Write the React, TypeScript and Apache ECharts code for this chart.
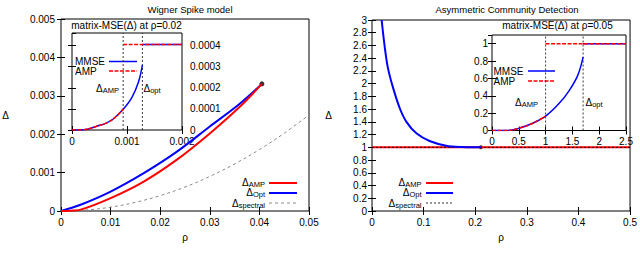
import React, { useEffect, useRef } from 'react';
import * as echarts from 'echarts';

const FONT = 'Liberation Sans';

// ---------- Left panel: Wigner Spike model ----------
const wignerTitle = 'Wigner Spike model';
const wignerXTicks = [0, 0.01, 0.02, 0.03, 0.04, 0.05];
const wignerYTicks = [0, 0.001, 0.002, 0.003, 0.004, 0.005];
const wignerOpt = [[0, 0], [0.0038, 0.000156], [0.0099, 0.0005], [0.0166, 0.00098], [0.0233, 0.00154], [0.03, 0.0022], [0.0361, 0.0028], [0.0405, 0.00331]];
const wignerAmp = [[0, 0], [0.002, 0.000008], [0.0038, 0.00003], [0.0099, 0.00033], [0.0166, 0.00076], [0.0233, 0.00133], [0.03, 0.00202], [0.0361, 0.00272], [0.0405, 0.00331]];
const wignerSpectral = [[0, 0], [0.005, 0.000025], [0.01, 0.0001], [0.015, 0.000225], [0.02, 0.0004], [0.025, 0.000625], [0.03, 0.0009], [0.035, 0.001225], [0.04, 0.0016], [0.045, 0.002025], [0.05, 0.0025]];
const wignerTricritical = [[0.0405, 0.00331]];

// Left inset: matrix-MSE at rho = 0.02
const wignerInsetTitle = 'matrix-MSE(Δ) at ρ=0.02';
const wignerInsetX = [0, 0.001, 0.002];
const wignerInsetY = [0, 0.0001, 0.0002, 0.0003, 0.0004];
const wignerInsetYMax = 0.00046;
const wignerMmse = [[0, 0], [0.00015, 0], [0.0003, 0.000005], [0.00045, 0.000018], [0.0006, 0.00003], [0.00075, 0.000052], [0.00093, 0.000098], [0.00109, 0.000155], [0.00121, 0.000229], [0.00128, 0.000308]];
const wignerMmseTop = [[0.00128, 0.000405], [0.002, 0.000405]];
const wignerAmpInset = [[0, 0], [0.00015, 0], [0.0003, 0.000005], [0.00045, 0.000018], [0.0006, 0.00003], [0.00075, 0.000052], [0.00093, 0.000098]];
const wignerAmpInsetTop = [[0.00093, 0.000405], [0.002, 0.000405]];
const wignerThresholds = [0.00093, 0.00128];

// ---------- Right panel: Asymmetric Community Detection ----------
const acdTitle = 'Asymmetric Community Detection';
const acdXTicks = [0, 0.1, 0.2, 0.3, 0.4, 0.5];
const acdYTicks = [0, 0.2, 0.4, 0.6, 0.8, 1, 1.2, 1.4, 1.6, 1.8, 2, 2.2, 2.4, 2.6, 2.8, 3];
const acdOpt = [[0.0187, 3], [0.025, 2.555], [0.031, 2.24], [0.041, 1.93], [0.054, 1.61], [0.0667, 1.4], [0.086, 1.22], [0.1115, 1.1], [0.1437, 1.026], [0.1756, 1.005], [0.211, 1.0]];
const acdAmp = [[0, 1], [0.5, 1]];
const acdSpectral = [[0, 1], [0.5, 1]];
const acdTricritical = [[0.211, 1]];

// Right inset: matrix-MSE at rho = 0.05
const acdInsetTitle = 'matrix-MSE(Δ) at ρ=0.05';
const acdInsetX = [0, 0.5, 1, 1.5, 2, 2.5];
const acdInsetY = [0, 0.2, 0.4, 0.6, 0.8, 1];
const acdInsetYMax = 1.1;
const acdMmse = [[0, 0], [0.3, 0], [0.5, 0.025], [0.75, 0.08], [1.0, 0.165], [1.25, 0.31], [1.44, 0.46], [1.6, 0.635], [1.7, 0.845]];
const acdMmseTop = [[1.7, 1], [2.5, 1]];
const acdAmpInset = [[0, 0], [0.3, 0], [0.5, 0.025], [0.75, 0.08], [1.0, 0.165]];
const acdAmpInsetTop = [[1.0, 1], [2.5, 1]];
const acdThresholds = [1.0, 1.7];

const RED = '#ff0000';
const BLUE = '#0000ff';

const fmt = (v: number) => String(+v.toFixed(6));

function xAxes(gridIndex: number, ticks: number[], name?: string, nameGap?: number) {
  const min = ticks[0];
  const max = ticks[ticks.length - 1];
  const interval = ticks[1] - ticks[0];
  const base = {
    type: 'value', gridIndex, min, max, interval,
    splitLine: { show: false },
    axisLine: { show: false },
    axisTick: { show: true, inside: true, length: 4, lineStyle: { color: '#000', width: 1 } },
  };
  return [
    {
      ...base, position: 'bottom',
      axisLabel: { show: true, margin: 6, fontSize: 10, fontFamily: FONT, color: '#000', formatter: fmt },
      name: name || '', nameLocation: 'middle', nameGap: nameGap || 22,
      nameTextStyle: { fontSize: 10, fontFamily: FONT, color: '#000' },
    },
    { ...base, position: 'top', axisLabel: { show: false } },
  ];
}

function yAxes(gridIndex: number, ticks: number[], labelSide: 'left' | 'right', max?: number, margin = 6, name?: string, nameGap?: number) {
  const min = ticks[0];
  const interval = ticks[1] - ticks[0];
  const base = {
    type: 'value', gridIndex, min, max: max ?? ticks[ticks.length - 1], interval,
    splitLine: { show: false },
    axisLine: { show: false },
    axisTick: { show: true, inside: true, length: 4, lineStyle: { color: '#000', width: 1 } },
  };
  return [
    {
      ...base, position: labelSide,
      axisLabel: { show: true, margin, fontSize: 10, fontFamily: FONT, color: '#000', formatter: fmt, showMaxLabel: max === undefined },
      name: name || '', nameLocation: 'middle', nameGap: nameGap || 40, nameRotate: 0,
      nameTextStyle: { fontSize: 10, fontFamily: FONT, color: '#000' },
    },
    { ...base, position: labelSide === 'left' ? 'right' : 'left', axisLabel: { show: false } },
  ];
}

const subRich = {
  d: { fontSize: 10, fontFamily: FONT, fill: '#000', color: '#000', verticalAlign: 'top', lineHeight: 9 },
  s: { fontSize: 7.5, fontFamily: FONT, fill: '#000', color: '#000', verticalAlign: 'bottom', lineHeight: 11 },
};

function subText(x: number, y: number, sub: string, align: 'left' | 'right') {
  return {
    type: 'text', x, y, silent: true,
    style: { text: `{d|Δ}{s|${sub}}`, rich: subRich, align, verticalAlign: 'middle', fill: '#000' },
  };
}

function plainText(x: number, y: number, text: string, align: string, size = 10) {
  return {
    type: 'text', x, y, silent: true,
    style: { text, fontSize: size, fontFamily: FONT, fill: '#000', align, verticalAlign: 'middle', lineHeight: 9 },
  };
}

function sampleLine(x1: number, x2: number, y: number, stroke: string, width: number, lineDash?: number[]) {
  return {
    type: 'line', silent: true,
    shape: { x1, y1: y, x2, y2: y },
    style: { stroke, lineWidth: width, lineDash },
  };
}

function lineSeries(xi: number, yi: number, data: number[][], color: string, width: number, dash?: any, smooth: any = 0.35) {
  return {
    type: 'line', xAxisIndex: xi, yAxisIndex: yi, data, showSymbol: false, symbol: 'none',
    smooth,
    lineStyle: { color, width, type: dash || 'solid' },
    silent: true,
  };
}

// vertical dashed threshold lines spanning the full inset height
function thresholdLines(xi: number, yi: number, thresholds: number[], yMin: number, yMax: number) {
  return thresholds.map((t) => ({
    type: 'line', xAxisIndex: xi, yAxisIndex: yi, symbol: 'none', showSymbol: false, silent: true,
    data: [[t, yMin], [t, yMax]],
    lineStyle: { color: '#222', width: 0.9, type: [2, 2] },
  }));
}

const option: any = {
  animation: false,
  backgroundColor: '#fff',
  title: [
    { text: wignerTitle, left: 185, top: -1, textAlign: 'center', textStyle: { fontSize: 9.5, fontWeight: 'normal', fontFamily: FONT, color: '#000' } },
    { text: acdTitle, left: 502, top: -1, textAlign: 'center', textStyle: { fontSize: 9.5, fontWeight: 'normal', fontFamily: FONT, color: '#000' } },
  ],
  grid: [
    { left: 61, top: 19, width: 248, height: 192, show: true, borderColor: '#000', borderWidth: 1, backgroundColor: 'transparent' },
    { left: 72, top: 33, width: 110, height: 97, show: true, borderColor: '#000', borderWidth: 1, backgroundColor: '#fff' },
    { left: 372, top: 20, width: 260, height: 191, show: true, borderColor: '#000', borderWidth: 1, backgroundColor: 'transparent' },
    { left: 492, top: 35, width: 134, height: 95.5, show: true, borderColor: '#000', borderWidth: 1, backgroundColor: '#fff' },
  ],
  xAxis: [
    ...xAxes(0, wignerXTicks, 'ρ', 21),
    ...xAxes(1, wignerInsetX),
    ...xAxes(2, acdXTicks, 'ρ', 21),
    ...xAxes(3, acdInsetX),
  ],
  yAxis: [
    ...yAxes(0, wignerYTicks, 'left', undefined, 6, 'Δ', 52),
    ...yAxes(1, wignerInsetY, 'right', wignerInsetYMax, 8),
    ...yAxes(2, acdYTicks, 'left', undefined, 5, 'Δ', 40),
    ...yAxes(3, acdInsetY, 'left', acdInsetYMax, 4),
  ],
  series: [
    // left main
    lineSeries(0, 0, wignerSpectral, '#8a8a8a', 1, [3, 3]),
    lineSeries(0, 0, wignerOpt, BLUE, 2),
    lineSeries(0, 0, wignerAmp, RED, 2),
    { type: 'scatter', xAxisIndex: 0, yAxisIndex: 0, data: wignerTricritical, symbolSize: 5, itemStyle: { color: '#000' }, silent: true },
    // left inset
    ...thresholdLines(2, 2, wignerThresholds, wignerInsetY[0], wignerInsetYMax),
    lineSeries(2, 2, wignerMmse, BLUE, 1.5),
    lineSeries(2, 2, wignerMmseTop, BLUE, 1.5, undefined, false),
    lineSeries(2, 2, wignerAmpInset, RED, 1.5, [4, 1.5]),
    lineSeries(2, 2, wignerAmpInsetTop, RED, 1.5, [4, 1.5], false),
    // right main
    lineSeries(4, 4, acdAmp, RED, 2, undefined, false),
    lineSeries(4, 4, acdSpectral, '#000', 0.8, [2, 2], false),
    lineSeries(4, 4, acdOpt, BLUE, 2),
    { type: 'scatter', xAxisIndex: 4, yAxisIndex: 4, data: acdTricritical, symbolSize: 4, itemStyle: { color: '#000' }, silent: true },
    // right inset
    ...thresholdLines(6, 6, acdThresholds, acdInsetY[0], acdInsetYMax),
    lineSeries(6, 6, acdMmse, BLUE, 1.5),
    lineSeries(6, 6, acdMmseTop, BLUE, 1.5, undefined, false),
    lineSeries(6, 6, acdAmpInset, RED, 1.5, [4, 1.5]),
    lineSeries(6, 6, acdAmpInsetTop, RED, 1.5, [4, 1.5], false),
  ],
  graphic: [
    // inset titles
    plainText(126.5, 25, wignerInsetTitle, 'center'),
    plainText(557.5, 25, acdInsetTitle, 'center'),
    // left inset legend
    plainText(75, 61, 'MMSE', 'left', 10),
    plainText(75, 71, 'AMP', 'left', 10),
    sampleLine(109, 137, 61.5, BLUE, 1.5),
    sampleLine(109, 137, 71, RED, 1.5, [4, 1.5]),
    // left inset threshold labels
    subText(96, 88.5, 'AMP', 'left'),
    subText(143.5, 88.5, 'opt', 'left'),
    // right inset legend
    plainText(493.5, 71, 'MMSE', 'left', 10),
    plainText(493.5, 81, 'AMP', 'left', 10),
    sampleLine(528, 555, 71, BLUE, 1.5),
    sampleLine(528, 555, 81, RED, 1.5, [4, 1.5]),
    // right inset threshold labels
    subText(515, 103, 'AMP', 'left'),
    subText(585.5, 103, 'opt', 'left'),
    // left main legend
    subText(265, 182.5, 'AMP', 'right'),
    subText(265, 193, 'Opt', 'right'),
    subText(265, 203.5, 'spectral', 'right'),
    sampleLine(269, 297, 183, RED, 2),
    sampleLine(269, 297, 193, BLUE, 2),
    sampleLine(269, 297, 203, '#8a8a8a', 1, [3, 3]),
    // right main legend
    subText(421.5, 182.5, 'AMP', 'right'),
    subText(421.5, 193, 'Opt', 'right'),
    subText(421.5, 203.5, 'spectral', 'right'),
    sampleLine(426, 453, 183, RED, 2),
    sampleLine(426, 453, 193, BLUE, 2),
    sampleLine(426, 453, 203, '#000', 0.8, [2, 2]),
  ],
};

export default function App() {
  const ref = useRef<HTMLDivElement>(null);
  useEffect(() => {
    if (!ref.current) return;
    const chart = echarts.init(ref.current, null, { renderer: 'svg' });
    chart.setOption(option);
    return () => chart.dispose();
  }, []);
  return <div ref={ref} style={{ position: 'absolute', left: 0, top: 0, width: 640, height: 261 }} />;
}
